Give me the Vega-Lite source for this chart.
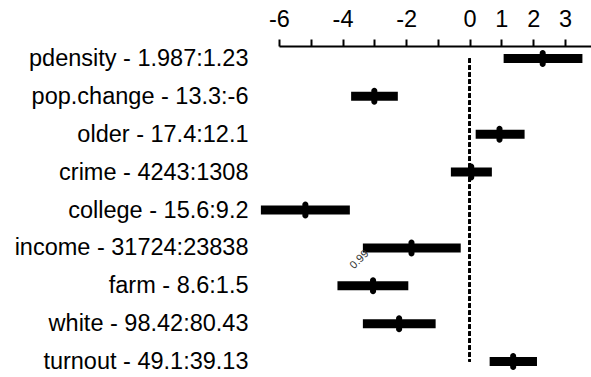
{
  "$schema": "https://vega.github.io/schema/vega-lite/v6.json",
  "width": 312,
  "height": 328,
  "autosize": {"type": "none"},
  "padding": {"left": 279, "top": 46, "right": 0, "bottom": 3},
  "background": "white",
  "config": {
    "view": {"stroke": null},
    "font": "Liberation Sans",
    "axisX": {
      "orient": "top",
      "title": null,
      "grid": false,
      "values": [-6, -5, -4, -3, -2, -1, 0, 1, 2, 3],
      "labelExpr": "(datum.value == -5 || datum.value == -3 || datum.value == -1) ? '' : toString(datum.value)",
      "tickSize": 7,
      "tickWidth": 2,
      "tickColor": "black",
      "domainWidth": 2,
      "domainColor": "black",
      "labelFontSize": 23.5,
      "labelFont": "Liberation Sans",
      "labelColor": "black",
      "labelPadding": 8,
      "labelFlush": false,
      "labelOverlap": false,
      "labelBound": false
    }
  },
  "data": {
    "values": [
      {"label": "pdensity - 1.987:1.23", "lo": 1.07, "hi": 3.55, "est": 2.30},
      {"label": "pop.change - 13.3:-6", "lo": -3.73, "hi": -2.26, "est": -3.00},
      {"label": "older - 17.4:12.1", "lo": 0.19, "hi": 1.73, "est": 0.94},
      {"label": "crime - 4243:1308", "lo": -0.59, "hi": 0.70, "est": 0.05},
      {"label": "college - 15.6:9.2", "lo": -6.57, "hi": -3.77, "est": -5.17},
      {"label": "income - 31724:23838", "lo": -3.36, "hi": -0.28, "est": -1.83},
      {"label": "farm - 8.6:1.5", "lo": -4.16, "hi": -1.93, "est": -3.04},
      {"label": "white - 98.42:80.43", "lo": -3.36, "hi": -1.07, "est": -2.22},
      {"label": "turnout - 49.1:39.13", "lo": 0.63, "hi": 2.12, "est": 1.37}
    ]
  },
  "encoding": {
    "y": {
      "field": "label",
      "type": "ordinal",
      "sort": null,
      "scale": {
        "type": "point",
        "padding": 0.33,
        "domain": ["pdensity - 1.987:1.23", "pop.change - 13.3:-6", "older - 17.4:12.1", "crime - 4243:1308", "college - 15.6:9.2", "income - 31724:23838", "farm - 8.6:1.5", "white - 98.42:80.43", "turnout - 49.1:39.13"]
      },
      "axis": {
        "orient": "left",
        "title": null,
        "domain": false,
        "ticks": false,
        "labelPadding": 31,
        "labelFontSize": 23.5,
        "labelColor": "black",
        "labelLimit": 400,
        "labelFont": "Liberation Sans"
      }
    }
  },
  "layer": [
    {
      "mark": {"type": "rule", "strokeWidth": 9, "strokeCap": "butt", "color": "black", "clip": false},
      "encoding": {
        "x": {
          "field": "lo",
          "type": "quantitative",
          "title": null,
          "scale": {"domain": [-6, 3.82], "nice": false, "zero": false, "clamp": false}
        },
        "x2": {"field": "hi"}
      }
    },
    {
      "mark": {"type": "rule", "strokeWidth": 2, "strokeDash": [4.5, 2.5], "color": "black", "clip": false},
      "encoding": {
        "x": {"datum": 0, "type": "quantitative", "title": null},
        "y": {"datum": "pdensity - 1.987:1.23"},
        "y2": {"datum": "turnout - 49.1:39.13"}
      }
    },
    {
      "mark": {"type": "tick", "thickness": 6, "size": 17, "cornerRadius": 3, "color": "black", "opacity": 1, "clip": false},
      "encoding": {
        "x": {"field": "est", "type": "quantitative", "title": null}
      }
    },
    {
      "transform": [{"filter": "datum.label === 'income - 31724:23838'"}],
      "mark": {"type": "text", "text": "0.99", "fontSize": 11, "align": "right", "baseline": "top", "angle": -45, "color": "#333333", "font": "Liberation Sans", "clip": false},
      "encoding": {
        "x": {"field": "lo", "type": "quantitative", "title": null}
      }
    }
  ]
}
